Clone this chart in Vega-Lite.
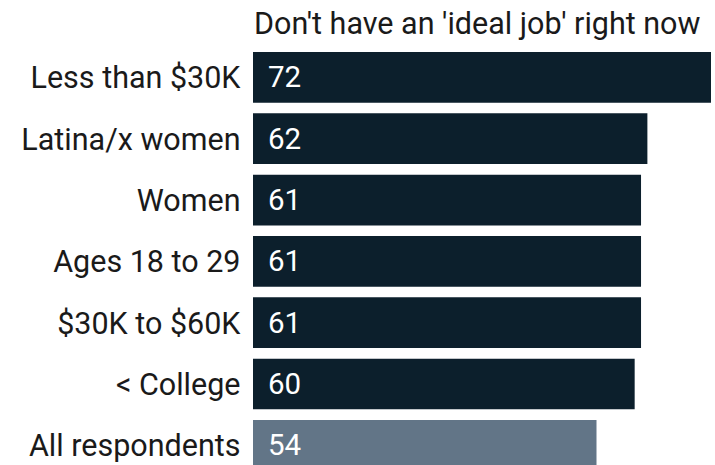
{
  "$schema": "https://vega.github.io/schema/vega-lite/v6.json",
  "autosize": "none",
  "width": 458,
  "height": 429.3,
  "padding": {"left": 253, "top": 46.7, "right": 4, "bottom": 0},
  "background": "white",
  "config": {"view": {"stroke": null}, "font": "Roboto"},
  "title": {
    "text": "Don't have an 'ideal job' right now",
    "anchor": "start",
    "frame": "group",
    "fontSize": 30.5,
    "fontWeight": "normal",
    "color": "#1a1a1a",
    "offset": 6,
    "dx": 1
  },
  "data": {
    "values": [
      {"group": "Less than $30K", "value": 72, "type": "sub"},
      {"group": "Latina/x women", "value": 62, "type": "sub"},
      {"group": "Women", "value": 61, "type": "sub"},
      {"group": "Ages 18 to 29", "value": 61, "type": "sub"},
      {"group": "$30K to $60K", "value": 61, "type": "sub"},
      {"group": "< College", "value": 60, "type": "sub"},
      {"group": "All respondents", "value": 54, "type": "all"}
    ]
  },
  "encoding": {
    "y": {
      "field": "group",
      "type": "nominal",
      "sort": null,
      "scale": {"paddingInner": 0.173, "paddingOuter": 0.0865},
      "axis": {
        "title": null,
        "domain": false,
        "ticks": false,
        "labelPadding": 13,
        "labelOffset": 2,
        "labelFontSize": 30.5,
        "labelLimit": 0,
        "labelColor": "#1a1a1a",
        "labelFont": "Roboto"
      }
    },
    "x": {
      "field": "value",
      "type": "quantitative",
      "scale": {"domain": [0, 72]},
      "axis": null
    }
  },
  "layer": [
    {
      "mark": {"type": "bar"},
      "encoding": {
        "color": {
          "field": "type",
          "type": "nominal",
          "scale": {"domain": ["sub", "all"], "range": ["#0c1f2c", "#627587"]},
          "legend": null
        }
      }
    },
    {
      "mark": {"type": "text", "align": "left", "dx": 15, "dy": 1, "baseline": "middle", "color": "white", "fontSize": 29.5, "font": "Roboto"},
      "encoding": {
        "x": {"datum": 0},
        "text": {"field": "value", "type": "quantitative"}
      }
    }
  ]
}
